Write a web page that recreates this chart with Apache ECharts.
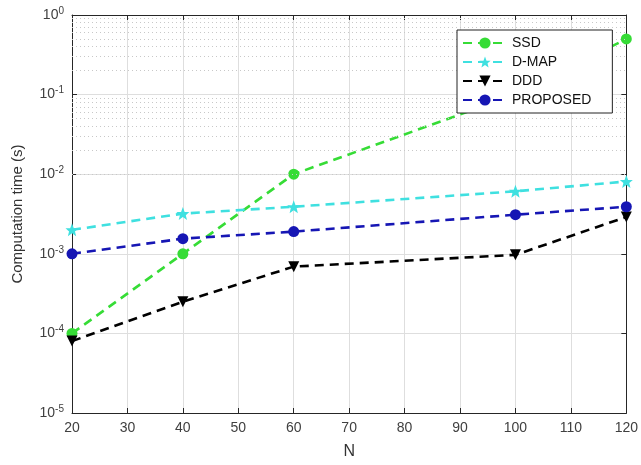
<!DOCTYPE html>
<html><head><meta charset="utf-8">
<script src="https://cdn.jsdelivr.net/npm/echarts@6/dist/echarts.min.js"></script>
<style>html,body{margin:0;padding:0;background:#fff}#c{width:641px;height:465px}</style>
</head><body><div id="c"></div>
<script>
const N = [20, 40, 60, 100, 120];
const SSD = [1.0e-4, 1.0e-3, 1.0e-2, 0.1, 0.5];
const DMAP = [2.0e-3, 3.2e-3, 3.9e-3, 6.1e-3, 8.1e-3];
const DDD = [8.0e-5, 2.5e-4, 6.9e-4, 9.7e-4, 2.9e-3];
const PROPOSED = [1.0e-3, 1.55e-3, 1.9e-3, 3.1e-3, 3.9e-3];
const xTicks = [20, 30, 40, 50, 60, 70, 80, 90, 100, 110, 120];
const yMin = 1e-5, yMax = 1;

const minorVals = [];
for (let e = -5; e < 0; e++) for (let m = 2; m <= 9; m++) minorVals.push(m * Math.pow(10, e));

const font = 'Arial, "Liberation Sans", sans-serif';
const chart = echarts.init(document.getElementById('c'));
function mk(name, data, color, symbol, size) {
  return {
    name, type: 'line', data: N.map((x, i) => [x, data[i]]),
    symbol, symbolSize: size,
    lineStyle: {color, width: 2.6, type: [9, 6]},
    itemStyle: {color},
    z: 3
  };
}
const series = [
  mk('SSD', SSD, '#36dc36', 'circle', 11),
  mk('D-MAP', DMAP, '#3fe0e0', 'path://M12,1 L15,9 L23,9 L17,14 L19,22 L12,17 L5,22 L7,14 L1,9 L9,9 Z', 13),
  mk('DDD', DDD, '#000000', 'triangle', 11),
  mk('PROPOSED', PROPOSED, '#1616b4', 'circle', 11)
];
series[2].symbolRotate = 180;
series.push({
  type: 'line', data: [], silent: true, xAxisIndex: 0, yAxisIndex: 0, z: 1,
  markLine: {
    silent: true, symbol: 'none', label: {show: false},
    lineStyle: {color: '#c8c8c8', type: [1, 3], width: 1},
    data: minorVals.map(v => ({yAxis: v}))
  }
});
const sup = {b: {fontSize: 14, color: '#404040', fontFamily: font}, s: {fontSize: 10, color: '#404040', fontFamily: font, verticalAlign: 'top', padding: [0, 0, 8, 0]}};
chart.setOption({
  animation: false,
  grid: {left: 72, right: 13, top: 15, bottom: 51},
  legend: {
    orient: 'vertical', left: 457, top: 30, z: 20, zlevel: 0,
    backgroundColor: '#fff', borderColor: '#222', borderWidth: 1, borderRadius: 0,
    padding: [6, 21, 6, 5], itemGap: 5, itemWidth: 44, itemHeight: 14,
    textStyle: {fontSize: 14, fontFamily: font, color: '#111'},
    data: ['SSD', 'D-MAP', 'DDD', 'PROPOSED']
  },
  xAxis: [{
    type: 'value', min: 20, max: 120, interval: 10,
    name: 'N', nameLocation: 'middle', nameGap: 31,
    nameTextStyle: {fontSize: 16, color: '#333', fontFamily: font},
    axisLine: {lineStyle: {color: '#262626'}},
    axisTick: {inside: true, length: 5, lineStyle: {color: '#262626'}},
    axisLabel: {fontSize: 14, color: '#404040', fontFamily: font, margin: 8},
    splitLine: {show: true, lineStyle: {color: '#dedede'}}
  }, {
    type: 'value', min: 20, max: 120, interval: 10, position: 'top',
    axisLine: {show: true, lineStyle: {color: '#262626'}},
    axisTick: {inside: true, length: 5, lineStyle: {color: '#262626'}},
    axisLabel: {show: false}, splitLine: {show: false}
  }],
  yAxis: [{
    type: 'log', logBase: 10, min: yMin, max: yMax,
    name: 'Computation time (s)', nameLocation: 'middle', nameGap: 47,
    nameTextStyle: {fontSize: 15, color: '#333', fontFamily: font},
    axisLine: {show: true, lineStyle: {color: '#262626'}},
    axisTick: {inside: true, length: 5, lineStyle: {color: '#262626'}},
    axisLabel: {
      margin: 8, rich: sup,
      formatter: v => '{b|10}{s|' + Math.round(Math.log10(v)) + '}'
    },
    splitLine: {show: true, lineStyle: {color: '#dedede'}}
  }, {
    type: 'log', logBase: 10, min: yMin, max: yMax, position: 'right',
    axisLine: {show: true, lineStyle: {color: '#262626'}},
    axisTick: {inside: true, length: 5, lineStyle: {color: '#262626'}},
    axisLabel: {show: false}, splitLine: {show: false}
  }],
  series
});
</script></body></html>
